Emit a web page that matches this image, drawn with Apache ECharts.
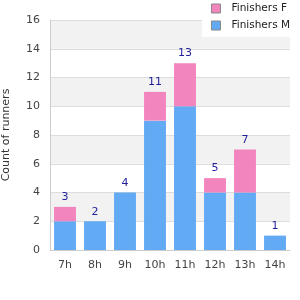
<!DOCTYPE html>
<html>
<head>
<meta charset="utf-8">
<script src="https://cdn.jsdelivr.net/npm/echarts@6/dist/echarts.min.js"></script>
<style>
  html, body { margin: 0; padding: 0; background: #fff; }
  #chart { width: 300px; height: 300px; }
</style>
</head>
<body>
<div id="chart"></div>
<script>
    var hours = ['7h', '8h', '9h', '10h', '11h', '12h', '13h', '14h'];
    var finishersM = [2, 2, 4, 9, 10, 4, 4, 1];
    var finishersF = [1, 0, 0, 2, 3, 1, 3, 0];
    var totals = hours.map(function (h, i) { return finishersM[i] + finishersF[i]; });

    var myChart = echarts.init(document.getElementById('chart'));
    var option = {
        animation: false,
        backgroundColor: '#fff',
        textStyle: { fontFamily: 'DejaVu Sans' },
        grid: { left: 50, right: 10, top: 20, bottom: 50, containLabel: false, outerBoundsMode: 'none' },
        legend: {
            data: ['Finishers F', 'Finishers M'],
            orient: 'vertical',
            right: 0,
            top: 0,
            backgroundColor: '#fff',
            padding: [3, 10, 6, 9],
            itemGap: 6,
            itemWidth: 9,
            itemHeight: 9,
            icon: 'rect',
            itemStyle: { borderColor: '#888', borderWidth: 1 },
            textStyle: { fontSize: 10.5, color: '#222', padding: [0, 0, 0, 6] }
        },
        xAxis: {
            type: 'category',
            data: hours,
            axisLine: { lineStyle: { color: '#ccc' } },
            axisTick: { show: false },
            axisLabel: { color: '#444', fontSize: 11, margin: 10 }
        },
        yAxis: {
            type: 'value',
            min: 0,
            max: 16,
            interval: 2,
            name: 'Count of runners',
            nameLocation: 'middle',
            nameGap: 38,
            nameTextStyle: { color: '#333', fontSize: 11 },
            axisLine: { show: true, lineStyle: { color: '#ccc' } },
            axisTick: { show: false },
            axisLabel: { color: '#444', fontSize: 11, margin: 10 },
            splitLine: { lineStyle: { color: '#ddd' } },
            splitArea: { show: true, areaStyle: { color: ['#fff', '#f2f2f2'] } }
        },
        series: [
            {
                name: 'Finishers M',
                type: 'bar',
                stack: 'total',
                barCategoryGap: '27%',
                data: finishersM,
                itemStyle: { color: '#62aaf4' }
            },
            {
                name: 'Finishers F',
                type: 'bar',
                stack: 'total',
                barCategoryGap: '27%',
                data: finishersF,
                itemStyle: { color: '#f285bd' },
                label: {
                    show: true,
                    position: 'top',
                    color: '#1f1f99',
                    fontSize: 11,
                    distance: 4,
                    formatter: function (p) { return totals[p.dataIndex]; }
                }
            }
        ]
    };
    myChart.setOption(option);
</script>
</body>
</html>
